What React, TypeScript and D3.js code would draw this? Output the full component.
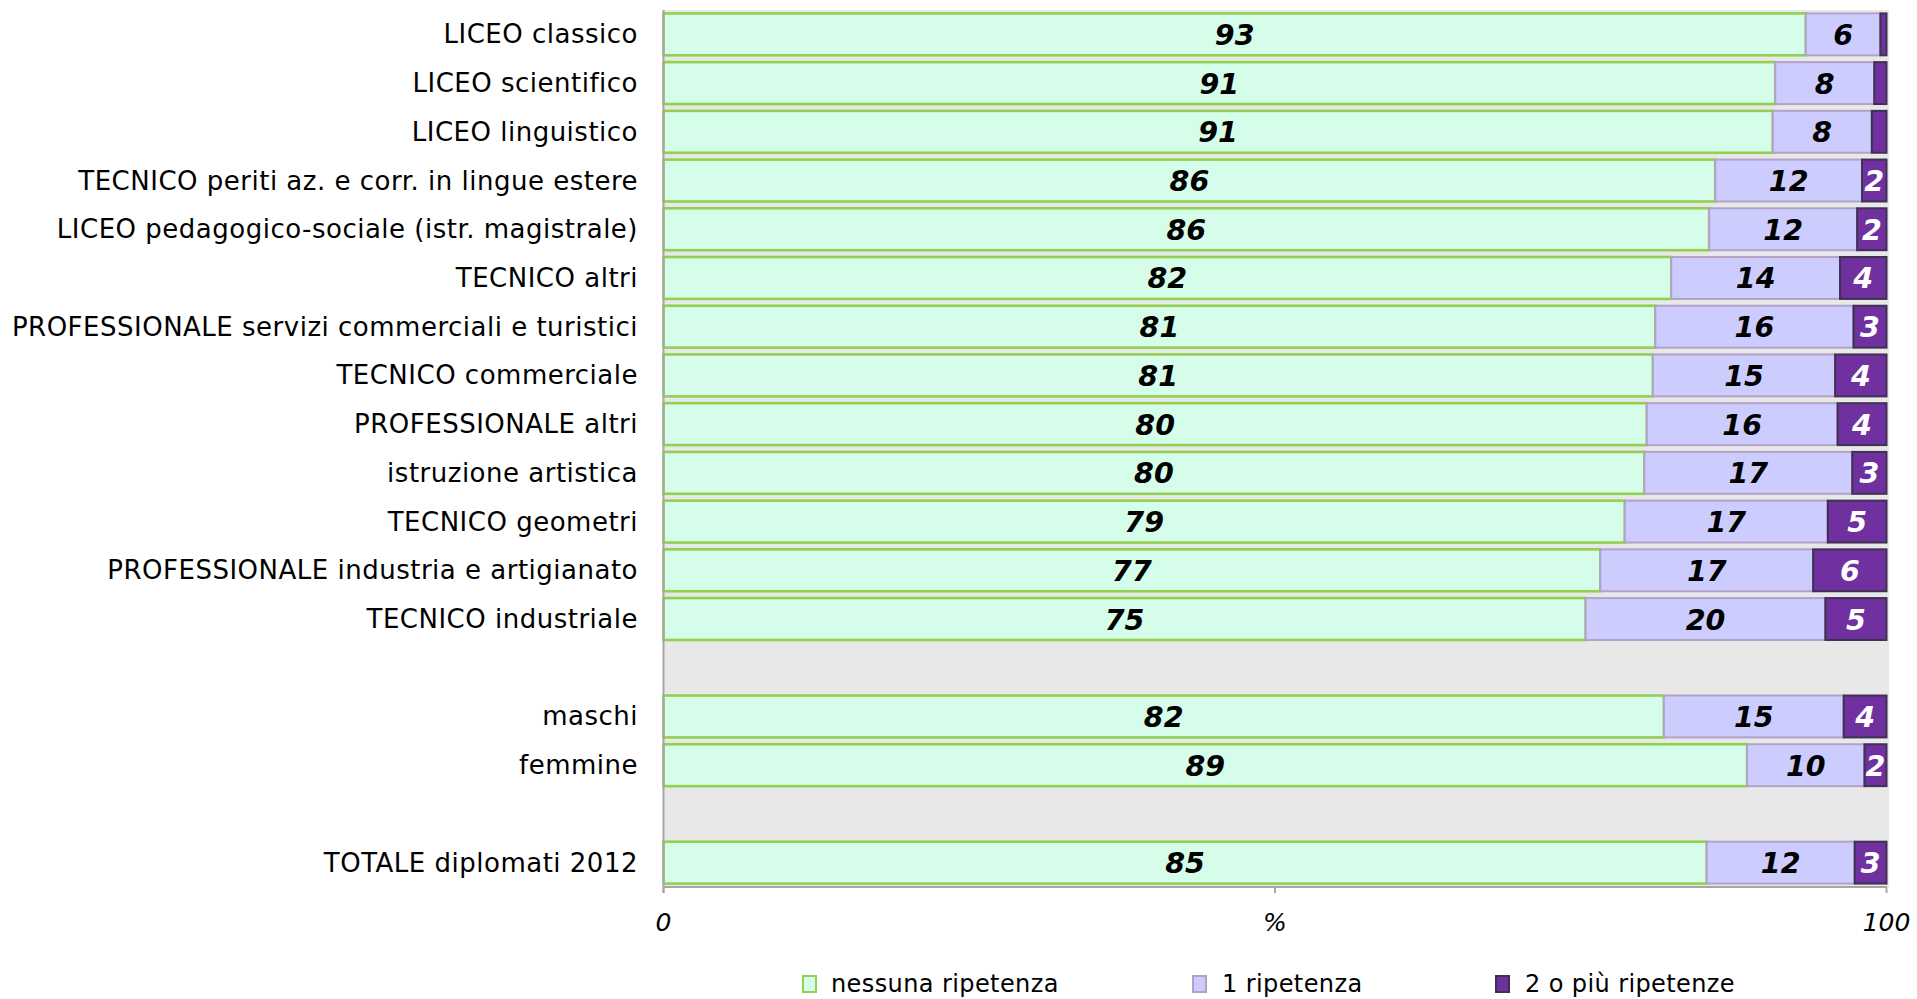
import React from "react";
import * as d3 from "d3";

const categories: string[] = [
  "LICEO classico",
  "LICEO scientifico",
  "LICEO linguistico",
  "TECNICO periti az. e corr. in lingue estere",
  "LICEO pedagogico-sociale (istr. magistrale)",
  "TECNICO altri",
  "PROFESSIONALE servizi commerciali e turistici",
  "TECNICO commerciale",
  "PROFESSIONALE altri",
  "istruzione artistica",
  "TECNICO geometri",
  "PROFESSIONALE industria e artigianato",
  "TECNICO industriale",
  "",
  "maschi",
  "femmine",
  "",
  "TOTALE diplomati 2012",
];

const nessuna: (number | null)[] = [93.4, 90.9, 90.7, 86.0, 85.5, 82.4, 81.1, 80.9, 80.4, 80.2, 78.6, 76.6, 75.4, null, 81.8, 88.6, null, 85.3];
const una: (number | null)[] = [6.1, 8.1, 8.1, 12.0, 12.1, 13.8, 16.2, 14.9, 15.6, 17.0, 16.6, 17.4, 19.6, null, 14.7, 9.6, null, 12.1];
const dueOPiu: (number | null)[] = [0.5, 1.0, 1.2, 2.0, 2.4, 3.8, 2.7, 4.2, 4.0, 2.8, 4.8, 6.0, 5.0, null, 3.5, 1.8, null, 2.6];

const seriesNames = ["nessuna ripetenza", "1 ripetenza", "2 o più ripetenze"];
const xTickValues = [0, 50, 100];
const xTickLabels = ["0", "%", "100"];

const fills = ["#D5FDE9", "#CCCCFF", "#7030A0"];
const strokes = ["#92D050", "#B3A2C7", "#3F3151"];
const labelColors = ["#000000", "#000000", "#FFFFFF"];

const W = 1917;
const H = 999;
const FONT = "'DejaVu Sans', Verdana, sans-serif";

export default function App() {
  const keys = ["s0", "s1", "s2"];
  const rows = categories.map((c, i) => ({
    key: String(i),
    name: c,
    s0: nessuna[i] ?? 0,
    s1: una[i] ?? 0,
    s2: dueOPiu[i] ?? 0,
    empty: nessuna[i] == null,
  }));

  const x = d3.scaleLinear().domain([0, 100]).range([663.5, 1886.5]);
  const y = d3
    .scaleBand<string>()
    .domain(rows.map((r) => r.key))
    .range([10, 887])
    .paddingInner(0.14)
    .paddingOuter(0.07);

  const stack = d3.stack<any>().keys(keys);
  const stacked = stack(rows);

  const plotLeft = x(0);
  const plotRight = x(100) + 2.5;
  const plotTop = 10;
  const plotBottom = 887;
  const bw = y.bandwidth();

  const legendItems = [
    { sx: 803, tx: 831 },
    { sx: 1193, tx: 1222 },
    { sx: 1496, tx: 1525 },
  ];

  return (
    <svg
      width={W}
      height={H}
      style={{ position: "absolute", left: 0, top: 0, display: "block", background: "#fff" }}
      fontFamily={FONT}
    >
      {/* plot background */}
      <rect x={plotLeft} y={plotTop} width={plotRight - plotLeft} height={plotBottom - plotTop} fill="#E8E8E8" />

      {/* bars */}
      {stacked.map((layer, si) => (
        <g key={si}>
          {layer.map((d, ri) => {
            const r = rows[ri];
            if (r.empty) return null;
            const x0 = x(d[0]);
            const x1 = x(d[1]);
            const yy = y(r.key)!;
            return (
              <rect
                key={ri}
                x={x0}
                y={yy}
                width={Math.max(0, x1 - x0)}
                height={bw}
                fill={fills[si]}
                stroke={strokes[si]}
                strokeWidth={si === 0 ? 2.6 : 2}
              />
            );
          })}
        </g>
      ))}

      {/* value labels */}
      {stacked.map((layer, si) => (
        <g key={"l" + si}>
          {layer.map((d, ri) => {
            const r = rows[ri];
            if (r.empty) return null;
            const v = d[1] - d[0];
            const rounded = Math.round(v);
            if (rounded < 2) return null;
            const cx = (x(d[0]) + x(d[1])) / 2;
            const cy = y(r.key)! + bw / 2 + 1;
            return (
              <text
                key={ri}
                x={cx}
                y={cy}
                textAnchor="middle"
                dominantBaseline="central"
                fontSize={28.5}
                fontWeight="bold"
                fontStyle="italic"
                fill={labelColors[si]}
              >
                {rounded}
              </text>
            );
          })}
        </g>
      ))}

      {/* axis lines */}
      <line x1={plotLeft} y1={plotTop} x2={plotLeft} y2={plotBottom + 6} stroke="#A6A6A6" strokeWidth={2} />
      <line x1={plotLeft} y1={plotBottom} x2={x(100)} y2={plotBottom} stroke="#A6A6A6" strokeWidth={2} />
      {xTickValues.map((t, i) => (
        <g key={"t" + i}>
          <line x1={x(t)} y1={plotBottom} x2={x(t)} y2={plotBottom + 6} stroke="#A6A6A6" strokeWidth={2} />
          <text
            x={x(t)}
            y={922}
            textAnchor="middle"
            dominantBaseline="central"
            fontSize={25}
            fontStyle="italic"
            fill="#000"
          >
            {xTickLabels[i]}
          </text>
        </g>
      ))}

      {/* category labels */}
      {rows.map((r) =>
        r.name ? (
          <text
            key={"c" + r.key}
            x={638}
            y={y(r.key)! + bw / 2}
            textAnchor="end"
            dominantBaseline="central"
            fontSize={26}
            letterSpacing={0.5}
            fill="#000"
          >
            {r.name}
          </text>
        ) : null
      )}

      {/* legend */}
      {seriesNames.map((n, i) => (
        <g key={"lg" + i}>
          <rect
            x={legendItems[i].sx}
            y={976}
            width={13}
            height={16}
            fill={fills[i]}
            stroke={strokes[i]}
            strokeWidth={2}
          />
          <text
            x={legendItems[i].tx}
            y={984}
            dominantBaseline="central"
            fontSize={24}
            letterSpacing={0.4}
            fill="#000"
          >
            {n}
          </text>
        </g>
      ))}
    </svg>
  );
}
